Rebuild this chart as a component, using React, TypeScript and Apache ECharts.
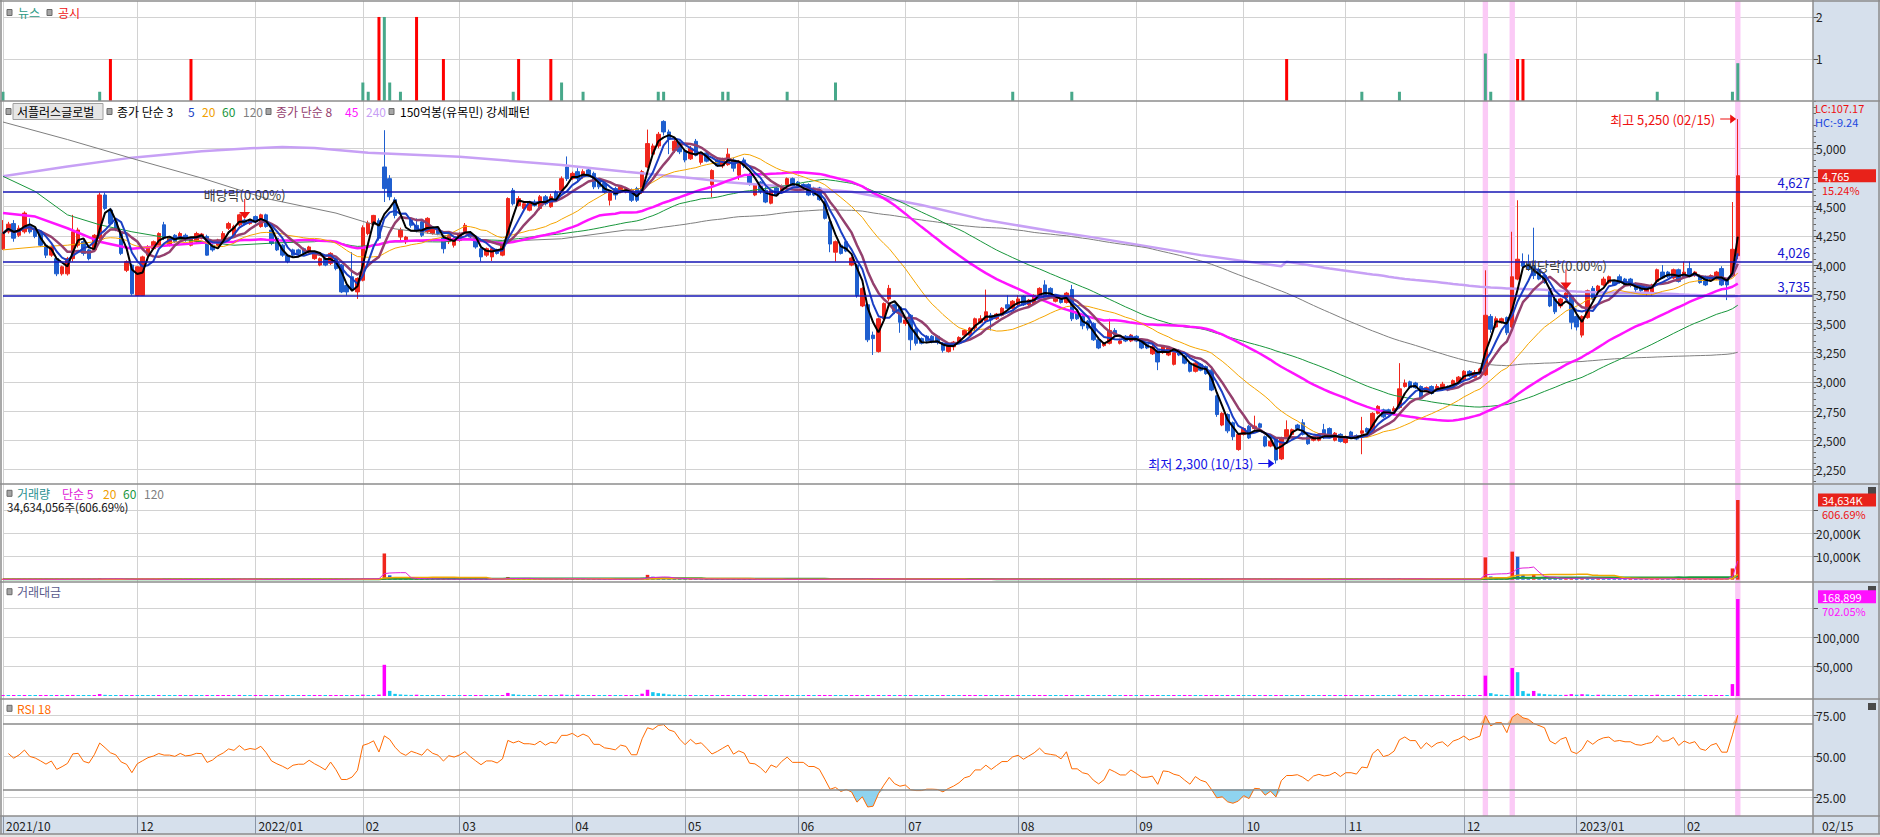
import React, { useEffect, useRef } from 'react';
import * as echarts from 'echarts';

// ---------------- data ----------------
const opens = [4140,4285,4355,4255,4285,4330,4300,4285,4170,4085,
4055,3925,3925,4055,4170,4200,4130,4130,4230,4600,
4470,4370,4285,3955,4000,3740,3740,4085,4140,4170,
4345,4170,4255,4230,4255,4170,4200,4230,4245,4170,
4170,4215,4315,4255,4345,4385,4355,4415,4330,4430,
4300,4230,4170,4085,4130,4130,4140,4115,4055,4000,
4055,4015,4055,4000,3825,3900,3770,3870,4270,4350,
4380,4840,4740,4560,4240,4200,4385,4340,4370,4285,
4270,4310,4240,4200,4170,4210,4285,4270,4225,4140,
4085,4070,4125,4085,4240,4640,4510,4485,4470,4540,
4485,4585,4500,4625,4640,4840,4740,4800,4755,4815,
4785,4725,4700,4555,4655,4625,4625,4640,4655,4625,
4840,4950,5020,5230,5140,4980,5050,4980,4910,5060,
4880,4960,4690,4900,4850,4860,4900,4770,4900,4770,
4600,4710,4640,4530,4660,4640,4690,4740,4710,4690,
4690,4660,4660,4540,4370,4110,4170,4200,4000,4000,
3650,3660,3400,3260,3540,3710,3660,3640,3500,3570,
3450,3370,3390,3390,3390,3330,3260,3300,3340,3400,
3400,3460,3510,3520,3570,3540,3570,3660,3630,3660,
3730,3660,3670,3740,3830,3800,3690,3730,3680,3790,
3600,3560,3520,3500,3360,3310,3330,3440,3330,3390,
3350,3390,3360,3320,3240,3270,3250,3230,3150,3270,
3220,3160,3090,3150,3130,3100,2880,2630,2720,2650,
2420,2550,2620,2600,2640,2530,2450,2510,2340,2530,
2550,2630,2650,2530,2500,2500,2590,2600,2500,2550,
2480,2570,2540,2560,2600,2580,2730,2760,2760,2750,
2780,2960,3000,2990,2960,2920,2960,2940,2950,2960,
2980,3000,3020,3090,3040,3070,3060,3560,3470,3510,
3550,3470,3880,4030,4010,3990,3960,3910,3800,3710,
3650,3720,3730,3560,3400,3550,3800,3770,3830,3850,
3860,3900,3880,3880,3840,3830,3770,3770,3860,3940,
3940,3890,3960,3900,3970,3910,3910,3900,3870,3880,
3970,3880,3910,4080];

const closes = [4270,4350,4230,4315,4445,4285,4245,4170,4085,4155,
3925,3985,4055,4285,4300,4100,4055,4255,4600,4485,
4355,4300,4100,4030,3755,3985,4070,4155,4200,4270,
4230,4230,4200,4270,4215,4230,4270,4265,4085,4130,
4215,4270,4355,4330,4430,4355,4385,4370,4430,4330,
4185,4130,4085,4030,4085,4100,4100,4155,4100,4055,
4000,4100,3970,3770,3770,3800,3885,4320,4360,4425,
4230,4655,4585,4425,4300,4240,4340,4300,4255,4400,
4310,4270,4140,4255,4225,4270,4340,4240,4155,4070,
4140,4140,4100,4170,4570,4525,4570,4525,4525,4510,
4585,4525,4585,4570,4740,4740,4785,4740,4800,4770,
4670,4670,4625,4615,4600,4670,4655,4555,4555,4800,
5040,5020,5120,5140,5080,5060,4970,4900,5000,4940,
4960,4890,4810,4850,4900,4950,4830,4880,4850,4700,
4690,4630,4540,4640,4600,4680,4740,4660,4660,4660,
4600,4600,4560,4400,4180,4200,4100,4120,4060,3740,
3800,3360,3370,3540,3670,3800,3600,3510,3530,3360,
3330,3330,3350,3350,3340,3270,3310,3340,3380,3440,
3460,3540,3540,3600,3530,3580,3630,3630,3690,3710,
3660,3700,3740,3800,3740,3730,3720,3680,3760,3540,
3540,3480,3460,3360,3290,3330,3440,3400,3350,3350,
3400,3350,3290,3290,3300,3170,3300,3290,3250,3230,
3160,3090,3160,3100,3070,2930,2720,2730,2580,2530,
2550,2600,2520,2620,2610,2450,2490,2330,2520,2590,
2590,2600,2550,2470,2530,2550,2520,2530,2560,2490,
2530,2530,2510,2580,2570,2730,2790,2700,2720,2770,
2940,2990,2950,2950,2860,2950,2900,2960,2980,2930,
3010,3040,3090,3050,3080,3110,3570,3450,3540,3540,
3420,3900,4050,3990,3970,3910,3880,3850,3650,3600,
3710,3760,3510,3470,3560,3780,3710,3820,3880,3900,
3830,3850,3830,3830,3790,3780,3810,3830,3960,3890,
3900,3960,3860,3940,3910,3940,3850,3830,3910,3940,
3830,3830,4135,4765];

const lows = [4130,4270,4200,4240,4270,4270,4230,4155,4060,4070,
3905,3910,3910,4030,4150,4080,4040,4115,4215,4470,
4340,4290,4085,3940,3740,3740,3735,4070,4130,4160,
4215,4160,4190,4220,4200,4160,4190,4220,4080,4115,
4160,4200,4300,4245,4330,4340,4345,4355,4320,4320,
4170,4120,4070,4015,4075,4090,4090,4100,4045,3990,
3990,4000,3955,3760,3740,3780,3710,3860,4255,4340,
4210,4540,4555,4400,4200,4180,4320,4280,4240,4270,
4260,4255,4100,4180,4150,4200,4270,4230,4140,4030,
4070,4035,4090,4075,4230,4510,4500,4470,4460,4500,
4470,4510,4490,4550,4620,4720,4730,4720,4740,4755,
4650,4650,4610,4510,4560,4615,4615,4540,4540,4610,
4830,4930,5000,5110,4950,4960,4950,4880,4900,4930,
4860,4880,4580,4840,4830,4850,4800,4730,4830,4680,
4590,4610,4530,4520,4590,4620,4680,4650,4650,4640,
4590,4590,4550,4390,4110,4030,4090,4110,3990,3720,
3640,3340,3230,3250,3530,3690,3580,3420,3480,3270,
3310,3320,3330,3330,3320,3250,3250,3270,3330,3390,
3390,3440,3500,3510,3440,3530,3560,3620,3620,3650,
3650,3650,3660,3730,3730,3720,3680,3670,3670,3520,
3530,3450,3440,3350,3280,3300,3320,3390,3320,3340,
3340,3340,3280,3280,3230,3100,3240,3220,3140,3220,
3150,3080,3080,3090,3060,2920,2700,2620,2560,2500,
2410,2540,2510,2590,2600,2440,2440,2300,2330,2520,
2540,2590,2540,2460,2490,2490,2510,2520,2490,2480,
2470,2520,2500,2380,2560,2570,2720,2690,2710,2740,
2770,2950,2940,2940,2850,2910,2890,2930,2940,2920,
2970,2990,3010,3040,3030,3060,3050,3420,3460,3500,
3400,3460,3870,3960,3950,3880,3870,3840,3640,3580,
3630,3700,3450,3440,3380,3540,3700,3760,3820,3840,
3820,3840,3820,3810,3760,3770,3740,3740,3850,3880,
3890,3880,3850,3890,3900,3900,3840,3820,3860,3870,
3820,3700,3900,4050];

const highs = [4385,4370,4385,4340,4460,4400,4320,4300,4180,4165,
4070,3995,4070,4430,4320,4220,4140,4265,4620,4620,
4490,4390,4300,4040,4010,3990,4080,4170,4210,4280,
4370,4240,4265,4285,4270,4240,4285,4275,4260,4180,
4225,4290,4370,4345,4440,4395,4395,4425,4440,4440,
4310,4240,4180,4095,4140,4140,4150,4165,4110,4065,
4065,4110,4065,4010,3840,4110,3895,4340,4380,4430,
4400,5155,4770,4580,4320,4250,4400,4400,4380,4410,
4330,4330,4255,4270,4235,4280,4360,4290,4240,4150,
4150,4150,4140,4180,4580,4660,4590,4540,4540,4560,
4600,4600,4610,4640,4760,4930,4800,4830,4820,4830,
4800,4740,4715,4625,4670,4685,4670,4655,4670,4815,
5160,5040,5140,5240,5160,5080,5060,4990,5020,5080,
4970,4970,4820,4910,4920,5000,4920,4900,4920,4790,
4700,4720,4670,4650,4680,4690,4750,4750,4720,4700,
4700,4670,4670,4550,4380,4210,4180,4210,4070,4010,
3810,3670,3430,3550,3680,3830,3670,3650,3540,3580,
3460,3380,3400,3400,3400,3340,3320,3350,3390,3450,
3470,3550,3570,3790,3590,3590,3640,3740,3700,3740,
3740,3710,3750,3810,3870,3810,3730,3740,3770,3830,
3610,3570,3530,3510,3380,3340,3540,3460,3370,3400,
3410,3400,3370,3330,3320,3280,3310,3300,3260,3280,
3230,3170,3170,3160,3140,3110,2890,2740,2730,2660,
2560,2610,2630,2710,2650,2540,2500,2520,2530,2670,
2600,2640,2680,2540,2540,2560,2640,2610,2570,2560,
2540,2580,2550,2700,2610,2740,2800,2770,2770,2790,
3160,3020,3010,3000,2970,2960,2970,2980,3000,2970,
3020,3050,3100,3100,3100,3120,3955,3580,3560,3550,
3560,4285,4555,4100,4090,4320,3980,3930,3810,3720,
3720,3790,3740,3570,3570,3790,3820,3830,3900,3910,
3870,3920,3890,3890,3850,3840,3820,3840,3970,4000,
3950,3970,3970,4030,4030,3950,3920,3910,3920,3950,
3990,3890,4540,5250];

// volume, thousand shares
const volumes = [180,150,210,160,260,170,140,190,230,150,
250,140,170,420,200,160,150,180,720,430,
260,180,240,200,330,290,260,180,150,170,
160,140,120,130,110,140,130,120,150,110,
120,130,360,170,410,160,140,150,170,160,
180,150,170,140,120,110,130,120,140,160,
130,150,170,260,230,450,210,520,380,300,
560,11400,1900,820,610,480,430,510,350,300,
260,240,280,220,200,190,230,180,200,420,
260,240,200,230,1150,640,460,380,320,290,
300,260,330,280,520,410,300,460,280,240,
250,220,210,230,200,190,210,240,230,820,
2100,1300,950,760,520,420,380,330,350,300,
280,260,310,240,260,300,250,220,240,210,
230,200,220,190,180,200,210,180,170,160,
180,170,190,260,420,330,240,220,250,380,
350,460,380,410,320,330,240,260,200,300,
240,180,170,160,150,200,170,160,150,170,
180,200,160,380,250,190,200,230,210,240,
200,180,190,220,260,200,170,160,190,280,
220,200,210,190,170,150,260,180,140,150,
160,150,170,140,200,240,170,160,180,150,
160,180,150,140,150,260,340,280,300,260,
320,240,220,230,180,250,200,380,420,360,
230,200,220,210,180,170,200,160,170,160,
170,180,150,450,200,380,330,220,200,190,
700,420,300,230,260,200,210,180,190,170,
180,200,240,210,190,230,9700,1400,800,600,
520,12200,10000,2100,1000,2200,1100,800,650,600,
500,520,900,600,850,700,450,560,520,500,
420,400,360,380,340,320,300,310,560,400,
360,320,380,350,420,300,280,290,300,330,
420,380,4901,34634.056];

// news / disclosure counts (bar index, height)
const newsIdx = [0,18,67,68,71,72,74,95,104,108,122,123,134,135,146,155,188,199,253,260,276,277,308,322,323];
const newsVal = [0.22,0.22,0.44,0.22,2,0.44,0.22,0.22,0.44,0.22,0.22,0.22,0.22,0.22,0.22,0.44,0.22,0.22,0.22,0.22,1.13,0.22,0.22,0.22,0.9];
const discIdx = [20,35,70,77,82,96,102,239,282,283];
const discVal = [1,1,2,2,1,1,1,1,1,1];

// month ticks
const monthStarts = [0,25,47,67,85,106,127,148,168,189,211,231,250,272,293,313];
const monthLabels = ['2021/10','12','2022/01','02','03','04','05','06','07','08','09','10','11','12','2023/01','02'];

// moving averages before enough visible history
const ma20Early = [[0,4130],[6,4155],[12,4170],[18,4205]];
const ma45Early = [[0,4445],[6,4415],[12,4315],[18,4200],[24,4140],[31,4170],[37,4190],[43,4200]];
const ma60Early = [[0,4760],[6,4630],[12,4430],[18,4345],[24,4285],[31,4230],[43,4170],[51,4190],[58,4200]];
const ma120Early = [[0,5225],[12,5075],[25,4900],[37,4745],[49,4570],[62,4445],[68,4360],[73,4310],[91,4200],[104,4225],[116,4300]];
const ma240Early = [[0,4760],[12,4845],[24,4920],[37,4975],[46,5000],[52,5010],[58,5003],[68,4962],[85,4928],[104,4856],[116,4800],[129,4741],[135,4710],[146,4671],[158,4628],[171,4514],[183,4385],[196,4285],[203,4237],[223,4085],[238,3990]];

const levels = [4627, 4026, 3735];
const highlightIdx = [276, 281, 323];
const dividendIdx = [45, 291];

const priceTicks = [2250,2500,2750,3000,3250,3500,3750,4000,4250,4500,4750,5000];
const priceLabels = [2250,2500,2750,3000,3250,3500,3750,4000,4250,4500,5000];
const volTicks = [10000, 20000, 30000];
const volLabels = [10000, 20000];
const tvTicks = [50000, 100000, 150000];
const tvLabels = [50000, 100000];
const rsiTicks = [25, 50, 75];

const LAST_TV = 168899;
const TXT = {
  priceTag: '4,765', pricePct: '15.24%', volTag: '34,634K', volPct: '606.69%',
  tvTag: '168,899', tvPct: '702.05%', lc: 'LC:107.17', hc: 'HC:-9.24',
  volLegend: '34,634,056주(606.69%)', high: '최고 5,250 (02/15)', low: '최저 2,300 (10/13)',
  div: '배당락(0.00%)', lastDate: '02/15',
};

// ---------------- layout ----------------
const W = 1880, H = 837;
const PL = 3, PR = 1813;
const NCAT = 338;
const P = [
  { top: 1, bottom: 101 },
  { top: 101, bottom: 484 },
  { top: 484, bottom: 582 },
  { top: 582, bottom: 699 },
  { top: 699, bottom: 816 },
];
const FONT = '"Noto Sans CJK KR", "Noto Sans", sans-serif';
const UP = '#f0261c', DOWN = '#1f5fcf';

const fmt = (v: number) => Math.round(v).toLocaleString('en-US');

function smaPartial(src: number[], n: number) {
  return src.map((_, i) => {
    const s = Math.max(0, i - n + 1);
    let t = 0;
    for (let k = s; k <= i; k++) t += src[k];
    return [i, t / (i - s + 1)];
  });
}
function smaEarly(src: number[], n: number, early: number[][]) {
  const pts: number[][] = early.filter((p) => p[0] < n - 1).map((p) => [p[0], p[1]]);
  for (let i = n - 1; i < src.length; i++) {
    let t = 0;
    for (let k = i - n + 1; k <= i; k++) t += src[k];
    pts.push([i, t / n]);
  }
  return pts;
}
function rsiCalc(src: number[], n: number) {
  const diffs = src.slice(1).map((v, i) => v - src[i]);
  const first = diffs.slice(0, n);
  const seed = first.reduce((a, d) => a + Math.abs(d), 0) / first.length / 2;
  let au = seed, ad = seed;
  const out: (number | null)[] = [null];
  diffs.forEach((d) => {
    au = (au * (n - 1) + Math.max(d, 0)) / n;
    ad = (ad * (n - 1) + Math.max(-d, 0)) / n;
    out.push((100 * au) / (au + ad));
  });
  return out;
}

function buildOption() {
  const cats = Array.from({ length: NCAT }, (_, i) => String(i));
  const monthSet = new Set(monthStarts);
  const monthMap: Record<number, string> = {};
  monthStarts.forEach((m, i) => (monthMap[m] = monthLabels[i]));
  const isMonth = (i: number) => monthSet.has(i);

  const candle = opens.map((o, i) => [o, closes[i], Math.min(lows[i], o, closes[i]), Math.max(highs[i], o, closes[i])]);

  const newsData: (number | null)[] = Array(NCAT).fill(null);
  newsIdx.forEach((d, i) => (newsData[d] = newsVal[i]));
  const discData: (number | null)[] = Array(NCAT).fill(null);
  discIdx.forEach((d, i) => (discData[d] = discVal[i]));

  const volData = volumes.map((v, i) => ({ value: v, itemStyle: { color: i === 0 || v >= volumes[i - 1] ? UP : DOWN } }));
  const tv = volumes.map((v, i) => (v * closes[i]) / 1000);
  const tvData = tv.map((v, i) => ({ value: v, itemStyle: { color: i === 0 || v >= tv[i - 1] ? '#ff00ff' : '#14c8f0' } }));

  const rsi = rsiCalc(closes, 18);
  const hiBase = rsi.map((v) => (v == null ? null : 70));
  const hiEx = rsi.map((v) => (v == null ? null : Math.max(v - 70, 0)));
  const loBase = rsi.map((v) => (v == null ? null : Math.min(v, 30)));
  const loGap = rsi.map((v) => (v == null ? null : 30 - Math.min(v, 30)));

  const grids = P.map((p) => ({
    left: PL, top: p.top, width: PR - PL, height: p.bottom - p.top,
    containLabel: false, outerBoundsMode: 'none', show: false,
  }));

  const xAxes = P.map((_, gi) => {
    const last = gi === P.length - 1;
    return {
      type: 'category', gridIndex: gi, data: cats, boundaryGap: false,
      axisLine: { show: false },
      axisTick: last
        ? { show: true, interval: (i: number) => isMonth(i), length: 18, lineStyle: { color: '#8a95a6' } }
        : { show: false },
      axisLabel: last
        ? {
            show: true, interval: (i: number) => isMonth(i), formatter: (_v: string, i: number) => monthMap[i] || '',
            align: 'left', margin: 3, padding: [0, 0, 0, 3], color: '#222', fontSize: 12, fontFamily: FONT, hideOverlap: false,
          }
        : { show: false },
      splitLine: { show: true, interval: (i: number) => isMonth(i), lineStyle: { color: '#d2d2d2', width: 1 } },
    };
  });

  const yBase = (gi: number, min: number, max: number, ticks: number[], labels: number[], fmtFn: (v: number) => string) => ({
    type: 'value', gridIndex: gi, position: 'right', min, max, scale: true,
    axisLine: { show: false },
    axisTick: { show: true, length: 5, customValues: ticks, lineStyle: { color: '#555' } },
    axisLabel: { show: true, customValues: labels, margin: 3, color: '#222', fontSize: 12, fontFamily: FONT, formatter: fmtFn, hideOverlap: false },
    splitLine: { show: true, lineStyle: { color: '#d2d2d2', width: 1 } },
  });

  const minorPriceTicks: number[] = [];
  for (let v = 2150; v <= 5400; v += 50) if (v % 250 !== 0) minorPriceTicks.push(v);

  const yAxes = [
    yBase(0, 0, 2.38, [1, 2], [1, 2], (v) => String(v)),
    yBase(1, 2125, 5405, priceTicks, priceLabels, (v) => fmt(v)),
    {
      type: 'value', gridIndex: 1, position: 'right', min: 2125, max: 5405,
      axisLine: { show: false }, axisLabel: { show: false }, splitLine: { show: false },
      axisTick: { show: true, length: 3, customValues: minorPriceTicks, lineStyle: { color: '#666' } },
    },
    yBase(2, -1000, 41600, volTicks, volLabels, (v) => fmt(v) + 'K'),
    yBase(3, -5100, 193900, tvTicks, tvLabels, (v) => fmt(v)),
    yBase(4, 13.7, 85.1, rsiTicks, rsiTicks, (v) => v.toFixed(2)),
  ];

  const ARROW_DOWN = 'path://M5,0 L6,0 L6,13 L11,13 L5.5,20 L0,13 L5,13 Z';
  const ARROW_RIGHT = 'path://M0,4 L10,4 L10,0 L16,4.5 L10,9 L10,5 L0,5 Z';

  let hiI = 0, loI = 0;
  highs.forEach((h, i) => { if (h > highs[hiI]) hiI = i; });
  lows.forEach((l, i) => { if (l < lows[loI]) loI = i; });

  const priceLine = (name: string, data: number[][], color: string, width: number) => ({
    type: 'line', name, xAxisIndex: 1, yAxisIndex: 1, data, symbol: 'none', silent: true, z: 4,
    lineStyle: { color, width }, clip: true,
  });
  const volLine = (data: number[][], color: string, width: number) => ({
    type: 'line', xAxisIndex: 2, yAxisIndex: 3, data, symbol: 'none', silent: true, z: 4,
    lineStyle: { color, width },
  });

  const series: any[] = [
    {
      type: 'custom', xAxisIndex: 0, yAxisIndex: 0, z: 1, silent: true, clip: false,
      data: highlightIdx.map((i) => [i, 0]),
      renderItem: (_params: any, api: any) => {
        const x = api.coord([api.value(0), 0])[0];
        const w = api.size([1, 0])[0];
        return {
          type: 'rect',
          shape: { x: x - w / 2, y: P[0].top, width: w, height: P[4].bottom - P[0].top },
          style: { fill: '#fbcaf6' },
        };
      },
    },
    { type: 'bar', xAxisIndex: 0, yAxisIndex: 0, data: newsData, barWidth: 3, barGap: '-100%', itemStyle: { color: '#47a88a' }, z: 3, silent: true },
    { type: 'bar', xAxisIndex: 0, yAxisIndex: 0, data: discData, barWidth: 3, barGap: '-100%', itemStyle: { color: '#ff0000' }, z: 3, silent: true },
    {
      type: 'candlestick', xAxisIndex: 1, yAxisIndex: 1, data: candle, barWidth: 4, z: 3, silent: true,
      itemStyle: { color: UP, color0: DOWN, borderColor: UP, borderColor0: DOWN, borderWidth: 1 },
      markLine: {
        silent: true, symbol: 'none', animation: false,
        lineStyle: { color: '#1616b4', width: 1.5, type: 'solid' },
        label: { show: true, position: 'insideEndTop', distance: 3, formatter: (p: any) => fmt(p.value), color: '#1414d2', fontSize: 13, fontFamily: FONT },
        data: levels.map((v) => ({ yAxis: v })),
      },
      markPoint: {
        silent: true, animation: false,
        data: [
          ...dividendIdx.map((i) => ({
            coord: [i, highs[i]], symbol: ARROW_DOWN, symbolSize: [11, 20], symbolOffset: [0, '-50%'],
            itemStyle: { color: '#ee1111' },
            label: { show: true, position: 'top', distance: -2, formatter: TXT.div, color: '#3c3c3c', fontSize: 13, fontFamily: FONT },
          })),
          {
            coord: [hiI, highs[hiI]], symbol: ARROW_RIGHT, symbolSize: [16, 9], symbolOffset: ['-60%', 0],
            itemStyle: { color: '#ee1111' },
            label: { show: true, position: 'left', distance: 5, formatter: TXT.high, color: '#ee1111', fontSize: 13, fontFamily: FONT },
          },
          {
            coord: [loI, lows[loI]], symbol: ARROW_RIGHT, symbolSize: [16, 9], symbolOffset: ['-60%', 0],
            itemStyle: { color: '#1212e6' },
            label: { show: true, position: 'left', distance: 5, formatter: TXT.low, color: '#1212e6', fontSize: 13, fontFamily: FONT },
          },
        ],
      },
    },
    priceLine('240', smaEarly(closes, 240, ma240Early), '#c7a0f5', 2.5),
    priceLine('120', smaEarly(closes, 120, ma120Early), '#7f7f7f', 1),
    priceLine('60', smaEarly(closes, 60, ma60Early), '#19963c', 1),
    priceLine('45', smaEarly(closes, 45, ma45Early), '#ff14ff', 2.5),
    priceLine('20', smaEarly(closes, 20, ma20Early), '#f5a500', 1),
    priceLine('8', smaPartial(closes, 8), '#94406e', 2.5),
    priceLine('5', smaPartial(closes, 5), '#1a3fc4', 2),
    priceLine('3', smaPartial(closes, 3), '#000000', 2),
    { type: 'bar', xAxisIndex: 2, yAxisIndex: 3, data: volData, barWidth: 3.5, barMinHeight: 1, z: 3, silent: true },
    volLine(smaPartial(volumes, 120), '#808080', 1),
    volLine(smaPartial(volumes, 60), '#1a9a3c', 2),
    volLine(smaPartial(volumes, 20), '#f0a800', 1.5),
    volLine(smaPartial(volumes, 5), '#e020d8', 1),
    { type: 'bar', xAxisIndex: 3, yAxisIndex: 4, data: tvData, barWidth: 3.5, barMinHeight: 1, z: 3, silent: true },
    { type: 'line', xAxisIndex: 4, yAxisIndex: 5, data: hiBase, stack: 'hi', symbol: 'none', lineStyle: { width: 0, opacity: 0 }, silent: true, z: 2 },
    { type: 'line', xAxisIndex: 4, yAxisIndex: 5, data: hiEx, stack: 'hi', symbol: 'none', lineStyle: { width: 0, opacity: 0 }, areaStyle: { color: '#f4bf9c', opacity: 1 }, silent: true, z: 2 },
    { type: 'line', xAxisIndex: 4, yAxisIndex: 5, data: loBase, stack: 'lo', symbol: 'none', lineStyle: { width: 0, opacity: 0 }, silent: true, z: 2 },
    { type: 'line', xAxisIndex: 4, yAxisIndex: 5, data: loGap, stack: 'lo', symbol: 'none', lineStyle: { width: 0, opacity: 0 }, areaStyle: { color: '#8fd3ef', opacity: 1 }, silent: true, z: 2 },
    {
      type: 'line', xAxisIndex: 4, yAxisIndex: 5, data: rsi, symbol: 'none', silent: true, z: 4,
      lineStyle: { color: '#ff6a00', width: 1 },
      markLine: {
        silent: true, symbol: 'none', animation: false, label: { show: false },
        lineStyle: { color: '#8a8a8a', width: 1.5, type: 'solid' },
        data: [{ yAxis: 30 }, { yAxis: 70 }],
      },
    },
  ];

  return {
    animation: false,
    backgroundColor: '#ffffff',
    textStyle: { fontFamily: FONT },
    grid: grids,
    xAxis: xAxes,
    yAxis: yAxes,
    series,
    graphic: { elements: staticGraphics() },
  };
}

function txt(id: string, x: number, y: number, text: string, fill: string, size = 12, z = 20) {
  return { id, type: 'text', x, y, z, silent: true, style: { text, fill, font: `${size}px ${FONT}`, verticalAlign: 'middle', align: 'left' } };
}
function marker(id: string, x: number, y: number) {
  return { id, type: 'rect', z: 20, silent: true, shape: { x, y: y - 3, width: 5, height: 6 }, style: { fill: '#a6a6a6', stroke: '#6a6a6a', lineWidth: 1 } };
}
function hline(id: string, y: number, x1 = 0, x2 = W, color = '#8c8c8c', w = 1.5) {
  return { id, type: 'line', z: 15, silent: true, shape: { x1, y1: y, x2, y2: y }, style: { stroke: color, lineWidth: w } };
}

function staticGraphics() {
  const g: any[] = [
    { id: 'rbg', type: 'rect', z: -10, silent: true, shape: { x: PR, y: 0, width: W - PR, height: 834 }, style: { fill: '#d6e0ec' } },
    { id: 'xbg', type: 'rect', z: -10, silent: true, shape: { x: 0, y: 816, width: W, height: 18 }, style: { fill: '#d6e0ec' } },
    { id: 'sbg', type: 'rect', z: -10, silent: true, shape: { x: 0, y: 834, width: W, height: 3 }, style: { fill: '#e4e4e4' } },
    hline('t0', 1),
    hline('t1', P[1].top),
    hline('t2', P[2].top),
    hline('t3', P[3].top),
    hline('t4', P[4].top),
    hline('t5', 816),
    hline('t6', 834),
    { id: 'vl', type: 'line', z: 15, silent: true, shape: { x1: 1, y1: 0, x2: 1, y2: 834 }, style: { stroke: '#8c8c8c', lineWidth: 1.5 } },
    { id: 'vr', type: 'line', z: 15, silent: true, shape: { x1: PR, y1: 0, x2: PR, y2: 834 }, style: { stroke: '#8c8c8c', lineWidth: 1.5 } },
    { id: 'vrr', type: 'line', z: 15, silent: true, shape: { x1: W - 1, y1: 0, x2: W - 1, y2: 834 }, style: { stroke: '#8c8c8c', lineWidth: 1.5 } },
    // news legend
    marker('m0', 7, 12.5), txt('l0a', 18, 12.5, '뉴스', '#2e9a86'), marker('m0b', 47, 12.5), txt('l0b', 58, 12.5, '공시', '#ee1111'),
    // price legend
    marker('m1', 6, 111.5),
    { id: 'btn', type: 'rect', z: 19, silent: true, shape: { x: 13, y: 103.5, width: 90, height: 16 }, style: { fill: '#e6e6e6', stroke: '#a0a0a0', lineWidth: 1 } },
    txt('l1a', 17, 111.5, '서플러스글로벌', '#000'),
    marker('m1b', 107, 111.5),
    txt('l1b', 117, 111.5, '종가 단순 3', '#000'),
    txt('l1c', 188, 111.5, '5', '#1a3fc4'),
    txt('l1d', 202, 111.5, '20', '#f0a000'),
    txt('l1e', 222, 111.5, '60', '#19963c'),
    txt('l1f', 243, 111.5, '120', '#808080'),
    marker('m1c', 266, 111.5),
    txt('l1g', 276, 111.5, '종가 단순 8', '#94406e'),
    txt('l1h', 345, 111.5, '45', '#ff14ff'),
    txt('l1i', 366, 111.5, '240', '#c7a0f5'),
    marker('m1d', 389, 111.5),
    txt('l1j', 400, 111.5, '150억봉(유목민) 강세패턴', '#000'),
    // volume legend
    marker('m2', 7, 493.3),
    txt('l2a', 17, 493.3, '거래량', '#2a9090'),
    txt('l2b', 62, 493.3, '단순 5', '#e020d8'),
    txt('l2c', 103, 493.3, '20', '#f0a000'),
    txt('l2d', 123, 493.3, '60', '#19963c'),
    txt('l2e', 144, 493.3, '120', '#808080'),
    txt('l2f', 7, 507, TXT.volLegend, '#111', 11.5),
    // trading value legend
    marker('m3', 7, 591.7),
    txt('l3a', 17, 591.7, '거래대금', '#5a5a8c'),
    // RSI legend
    marker('m4', 7, 708.3),
    txt('l4a', 17, 708.3, 'RSI 18', '#ff6a00'),
    // right panel texts
    txt('lc', 1815, 107.5, TXT.lc, '#ee1111', 11),
    txt('hc', 1815, 121.5, TXT.hc, '#1a46e0', 11),
    txt('xd', 1822, 825, TXT.lastDate, '#222'),
    { id: 'xi1', type: 'rect', z: 20, silent: true, shape: { x: 1868, y: 487, width: 8, height: 7 }, style: { fill: '#4a4a4a' } },
    { id: 'xi2', type: 'rect', z: 20, silent: true, shape: { x: 1868, y: 586, width: 8, height: 7 }, style: { fill: '#4a4a4a' } },
    { id: 'xi3', type: 'rect', z: 20, silent: true, shape: { x: 1868, y: 703, width: 8, height: 7 }, style: { fill: '#4a4a4a' } },
  ];
  return g;
}

function tagGraphics(yP: number, yV: number, yT: number) {
  const box = (id: string, y: number, fill: string, text: string) => [
    { id: id + 'b', type: 'rect', z: 30, silent: true, shape: { x: 1818, y: y - 6.5, width: 58, height: 13 }, style: { fill } },
    txt(id + 't', 1822, y, text, '#ffffff', 11, 31),
  ];
  return [
    ...box('pt', yP, '#e8221a', TXT.priceTag),
    txt('pp', 1822, yP + 14, TXT.pricePct, '#ee1111', 11, 31),
    ...box('vt', yV, '#e8221a', TXT.volTag),
    txt('vp', 1822, yV + 14, TXT.volPct, '#ee1111', 11, 31),
    ...box('tt', yT, '#ff10ff', TXT.tvTag),
    txt('tp', 1822, yT + 14, TXT.tvPct, '#ff10ff', 11, 31),
  ];
}

export default function App() {
  const ref = useRef<HTMLDivElement>(null);
  useEffect(() => {
    if (!ref.current) return;
    const chart = echarts.init(ref.current, null, { renderer: 'svg' });
    chart.setOption(buildOption() as any);
    const last = closes.length - 1;
    const yP = chart.convertToPixel({ yAxisIndex: 1 } as any, closes[last]) as unknown as number;
    const yV = chart.convertToPixel({ yAxisIndex: 3 } as any, volumes[last]) as unknown as number;
    const yT = chart.convertToPixel({ yAxisIndex: 4 } as any, LAST_TV) as unknown as number;
    chart.setOption({ graphic: { elements: [...staticGraphics(), ...tagGraphics(yP, yV, yT)] } } as any);
    return () => chart.dispose();
  }, []);
  return <div ref={ref} style={{ position: 'absolute', left: 0, top: 0, width: W, height: H, background: '#fff' }} />;
}
